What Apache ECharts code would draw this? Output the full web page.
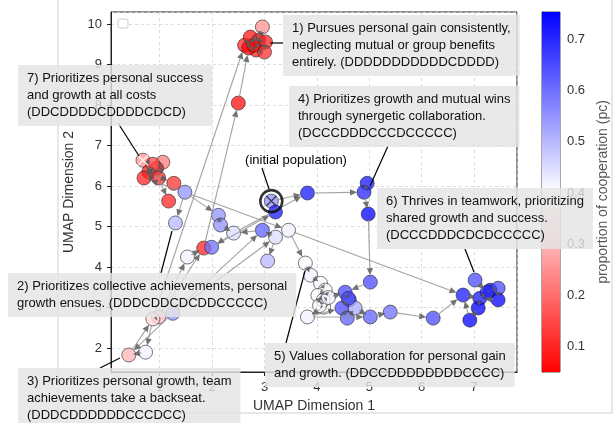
<!DOCTYPE html>
<html><head><meta charset="utf-8">
<script src="https://cdn.jsdelivr.net/npm/echarts@6/dist/echarts.min.js"></script>
<style>html,body{margin:0;padding:0;background:#fff}#c{width:616px;height:423px}</style>
</head><body><div id="c"></div>
<script>
// UMAP coordinates and proportion of cooperation per population
const X = [2.96,2.62,2.73,2.89,3.02,2.84,3.00,2.70,2.79,2.50,
           0.68,1.06,0.79,0.94,0.70,0.98,0.87,1.27,1.17,
           1.48,1.30,2.12,2.16,1.84,1.99,1.53,2.41,2.96,3.21,3.46,3.06,3.78,
           3.13,3.21,3.82,4.96,4.90,4.98,5.02,
           3.88,4.07,4.16,4.13,3.82,4.54,4.62,4.48,4.73,4.60,4.58,5.02,5.40,6.22,4.02,4.12,4.05,4.22,
           7.02,6.79,7.11,7.31,7.46,7.46,7.08,6.92,7.25,
           1.25,0.98,0.87,0.73,0.41];
const Y = [9.93,9.48,9.68,9.60,9.56,9.36,9.31,9.41,9.48,8.05,
           6.64,6.59,6.35,6.44,6.20,6.20,6.54,6.07,5.63,
           5.85,5.09,5.28,5.04,4.47,4.49,4.25,4.84,4.91,4.74,4.91,4.15,4.10,
           5.63,5.36,5.83,6.07,5.85,5.31,3.63,
           3.80,3.60,3.43,3.01,2.77,3.38,3.19,2.99,2.99,3.23,2.74,2.77,2.89,2.74,3.30,3.18,3.05,3.25,
           3.68,3.31,3.23,3.43,3.48,3.19,2.99,2.69,3.38,
           2.86,2.77,2.72,1.90,1.83];
const PC = [0.25,0.10,0.08,0.07,0.10,0.10,0.12,0.06,0.06,0.07,
            0.25,0.22,0.08,0.10,0.10,0.12,0.15,0.12,0.10,
            0.55,0.50,0.55,0.55,0.10,0.60,0.42,0.45,0.62,0.45,0.42,0.50,0.41,
            0.55,0.72,0.72,0.72,0.70,0.75,0.65,
            0.42,0.41,0.40,0.41,0.42,0.65,0.65,0.65,0.52,0.65,0.62,0.62,0.60,0.65,0.40,0.40,0.41,0.42,
            0.65,0.72,0.72,0.75,0.65,0.75,0.75,0.75,0.70,
            0.55,0.30,0.35,0.42,0.30];
// evolution steps (from index, to index)
const EDGES = [[32,34],[34,36],[35,36],[36,37],[37,38],[38,44],[24,33],[26,34],
  [9,7],[68,1],[23,9],[1,2],[2,3],[3,4],[4,6],[6,5],[5,8],[8,2],[7,8],[0,3],[1,8],[3,5],[2,4],[7,5],
  [10,16],[16,12],[12,13],[13,14],[14,15],[15,11],[11,13],[12,17],[15,18],[19,14],[16,14],
  [19,20],[19,21],[19,29],[29,58],[21,22],[22,26],[26,24],[25,23],[27,26],[28,27],[28,30],[29,31],[31,39],
  [67,25],[66,27],[66,28],[67,23],[68,69],[69,70],[66,70],[70,68],[67,68],
  [39,40],[40,41],[41,53],[53,54],[54,55],[55,42],[42,43],[43,46],[43,50],[54,56],[56,44],[44,45],[45,48],[48,46],[46,49],[49,47],[47,50],[50,51],[51,52],[52,58],[53,55],[41,56],
  [57,65],[65,60],[60,61],[61,62],[62,59],[59,63],[63,64],[58,59],[64,58],[59,65]];
const INITIAL = 32, MARKED = 10;
const X_NAME = 'UMAP Dimension 1', Y_NAME = 'UMAP Dimension 2';
const CB_NAME = 'proportion of cooperation (pc)';
const PC_MIN = 0.051, PC_MAX = 0.753;
const NOTES = [
  '1) Pursues personal gain consistently,\nneglecting mutual or group benefits\nentirely. (DDDDDDDDDDDCDDDD)',
  '4) Prioritizes growth and mutual wins\nthrough synergetic collaboration.\n(DCCCDDDCCCDCCCCC)',
  '7) Prioritizes personal success\nand growth at all costs\n(DDCDDDDCDDDDCDCD)',
  '6) Thrives in teamwork, prioritizing\nshared growth and success.\n(DCCCDDDCDCDCCCCC)',
  '2) Prioritizes collective achievements, personal\ngrowth ensues. (DDDCDDCDCDDCCCCC)',
  '5) Values collaboration for personal gain\nand growth. (DDCCDDDDDDDDCCCC)',
  '3) Prioritizes personal growth, team\nachievements take a backseat.\n(DDDCDDDDDDCCCDCC)'
];
const INIT_LABEL = '(initial population)';

const FONT = '"Liberation Sans", Arial, sans-serif';
const pts = X.map((x,i)=>[x, Y[i], PC[i]]);
const edgeData = EDGES.map(([a,b])=>[X[a],Y[a],X[b],Y[b]]);

const chart = echarts.init(document.getElementById('c'), null, {renderer:'canvas'});

function arrowItem(params, api){
  const p1 = api.coord([api.value(0), api.value(1)]);
  const p2 = api.coord([api.value(2), api.value(3)]);
  const dx = p2[0]-p1[0], dy = p2[1]-p1[1];
  const L = Math.hypot(dx,dy);
  if (L < 2) return null;
  const ux = dx/L, uy = dy/L;
  const s0 = Math.min(6, L*0.25), s1 = Math.min(7, L*0.25);
  const a = [p1[0]+ux*s0, p1[1]+uy*s0];
  const b = [p2[0]-ux*s1, p2[1]-uy*s1];
  const hl = Math.min(7, L*0.4), hw = 3.2;
  const base = [b[0]-ux*hl, b[1]-uy*hl];
  return {type:'group', children:[
    {type:'line', shape:{x1:a[0],y1:a[1],x2:base[0],y2:base[1]}, style:{stroke:'rgba(140,140,140,0.8)', lineWidth:1.1}},
    {type:'polygon', shape:{points:[b,[base[0]-uy*hw, base[1]+ux*hw],[base[0]+uy*hw, base[1]-ux*hw]]}, style:{fill:'rgba(90,90,90,0.85)'}}
  ]};
}

function cbItem(params, api){
  const p0 = api.coord([0, api.value(0)]);
  const p1 = api.coord([1, api.value(1)]);
  return {type:'rect', shape:{x:p0[0], y:p1[1], width:p1[0]-p0[0], height:p0[1]-p1[1]},
    style:{fill:new echarts.graphic.LinearGradient(0,0,0,1,[
      {offset:0,color:'#0000ff'},{offset:0.5,color:'#ffffff'},{offset:1,color:'#ff0000'}])}};
}

const axisLabelStyle = {color:'#333', fontSize:13, fontFamily:FONT};

const option = {
  animation:false,
  backgroundColor:'#fff',
  grid:[
    {left:111, top:12, width:406, height:360, show:true, borderColor:'#222', borderWidth:1, backgroundColor:'#fff'},
    {left:542, top:12, width:18, height:360, show:true, borderColor:'#222', borderWidth:0.8}
  ],
  xAxis:[
    {type:'value', gridIndex:0, min:0.07, max:7.82, splitNumber:8,
     name:X_NAME, nameLocation:'middle', nameGap:24,
     nameTextStyle:{color:'#333', fontSize:14, fontFamily:FONT},
     axisLine:{show:true, onZero:false, lineStyle:{color:'#222'}},
     axisTick:{show:true, length:4, lineStyle:{color:'#222'}},
     axisLabel:Object.assign({margin:9, showMinLabel:false, showMaxLabel:false}, axisLabelStyle),
     splitLine:{show:true, lineStyle:{color:'#d4d4d4', type:[3,3], width:0.8}}},
    {type:'value', gridIndex:1, min:0, max:1, show:false}
  ],
  yAxis:[
    {type:'value', gridIndex:0, min:1.41, max:10.3, splitNumber:9,
     name:Y_NAME, nameLocation:'middle', nameGap:20, nameRotate:90,
     nameTextStyle:{color:'#333', fontSize:14, fontFamily:FONT},
     axisLine:{show:true, onZero:false, lineStyle:{color:'#222'}},
     axisTick:{show:true, length:4, lineStyle:{color:'#222'}},
     axisLabel:Object.assign({margin:9, showMinLabel:false, showMaxLabel:false}, axisLabelStyle),
     splitLine:{show:true, lineStyle:{color:'#d4d4d4', type:[3,3], width:0.8}}},
    {type:'value', gridIndex:1, min:PC_MIN, max:PC_MAX, splitNumber:7, position:'right',
     name:CB_NAME, nameLocation:'middle', nameGap:36, nameRotate:90,
     nameTextStyle:{color:'#555', fontSize:14, fontFamily:FONT},
     axisLine:{show:true, lineStyle:{color:'#222', width:0.8}},
     axisTick:{show:true, length:4, lineStyle:{color:'#222'}},
     axisLabel:Object.assign({margin:7, showMinLabel:false, showMaxLabel:false}, axisLabelStyle),
     splitLine:{show:false}}
  ],
  visualMap:{type:'continuous', show:false, seriesIndex:0, dimension:2, min:PC_MIN, max:PC_MAX,
    inRange:{color:['#ff0000','#ffffff','#0000ff']}},
  series:[
    {type:'scatter', xAxisIndex:0, yAxisIndex:0, data:pts, symbolSize:14,
     itemStyle:{opacity:0.75, borderColor:'#222', borderWidth:0.8}, z:2},
    {type:'custom', xAxisIndex:0, yAxisIndex:0, data:edgeData, renderItem:arrowItem,
     encode:{x:[0,2], y:[1,3]}, z:3, silent:true},
    {type:'scatter', xAxisIndex:0, yAxisIndex:0, data:[[X[MARKED],Y[MARKED]]], symbol:'path://M0,0L10,10M10,0L0,10',
     symbolSize:10, itemStyle:{color:'transparent', borderColor:'#fff', borderWidth:1.6}, z:4},
    {type:'scatter', xAxisIndex:0, yAxisIndex:0, data:[[X[INITIAL],Y[INITIAL]]], symbol:'path://M0,0L10,10M10,0L0,10',
     symbolSize:10, itemStyle:{color:'transparent', borderColor:'#223', borderWidth:1.4}, z:4},
    {type:'scatter', xAxisIndex:0, yAxisIndex:0, data:[[X[INITIAL],Y[INITIAL]]], symbol:'circle',
     symbolSize:22, itemStyle:{color:'transparent', borderColor:'#000', borderWidth:2.6}, z:5},
    {type:'custom', xAxisIndex:1, yAxisIndex:1, data:[[PC_MIN, PC_MAX]], renderItem:cbItem,
     encode:{y:[0,1]}, silent:true, z:1}
  ]
};
chart.setOption(option);

// figure frame, legend stub, annotations
const boxPos = [[283,15],[289,86],[18,65],[377,188],[8,273],[265,343],[18,368]];
const conn = [[[270,43],[283,43]],[[388,146],[370,186]],[[118,123],[139,156]],[[465,249],[474,272]],
              [[161,273],[172,231]],[[286,343],[305,271]],[[100,368],[120,358]]];
const g = [];
g.push({type:'polyline', shape:{points:[[58,0],[58,413],[612,413],[612,0]]}, style:{stroke:'#cfcfcf', lineWidth:1, fill:null}, z:1});
g.push({type:'rect', shape:{x:118,y:19,width:10,height:9,r:2}, style:{fill:'#fff', stroke:'#ccc', lineWidth:1}, z:10});
conn.forEach(([a,b])=>g.push({type:'line', shape:{x1:a[0],y1:a[1],x2:b[0],y2:b[1]}, style:{stroke:'#000', lineWidth:1.2}, z:20}));
g.push({type:'line', shape:{x1:262,y1:168,x2:269,y2:189}, style:{stroke:'#000', lineWidth:1.2}, z:20});
g.push({type:'text', x:296, y:160, style:{text:INIT_LABEL, font:'13px '+FONT, fill:'#000', align:'center', verticalAlign:'middle'}, z:21});
NOTES.forEach((t,i)=>g.push({type:'text', x:boxPos[i][0], y:boxPos[i][1], z:30,
  style:{text:t, font:'13px '+FONT, fill:'#111', lineHeight:17, padding:[5,9,5,9], backgroundColor:'rgba(228,228,228,0.82)'}}));
chart.setOption({graphic:{elements:g}});
</script></body></html>
